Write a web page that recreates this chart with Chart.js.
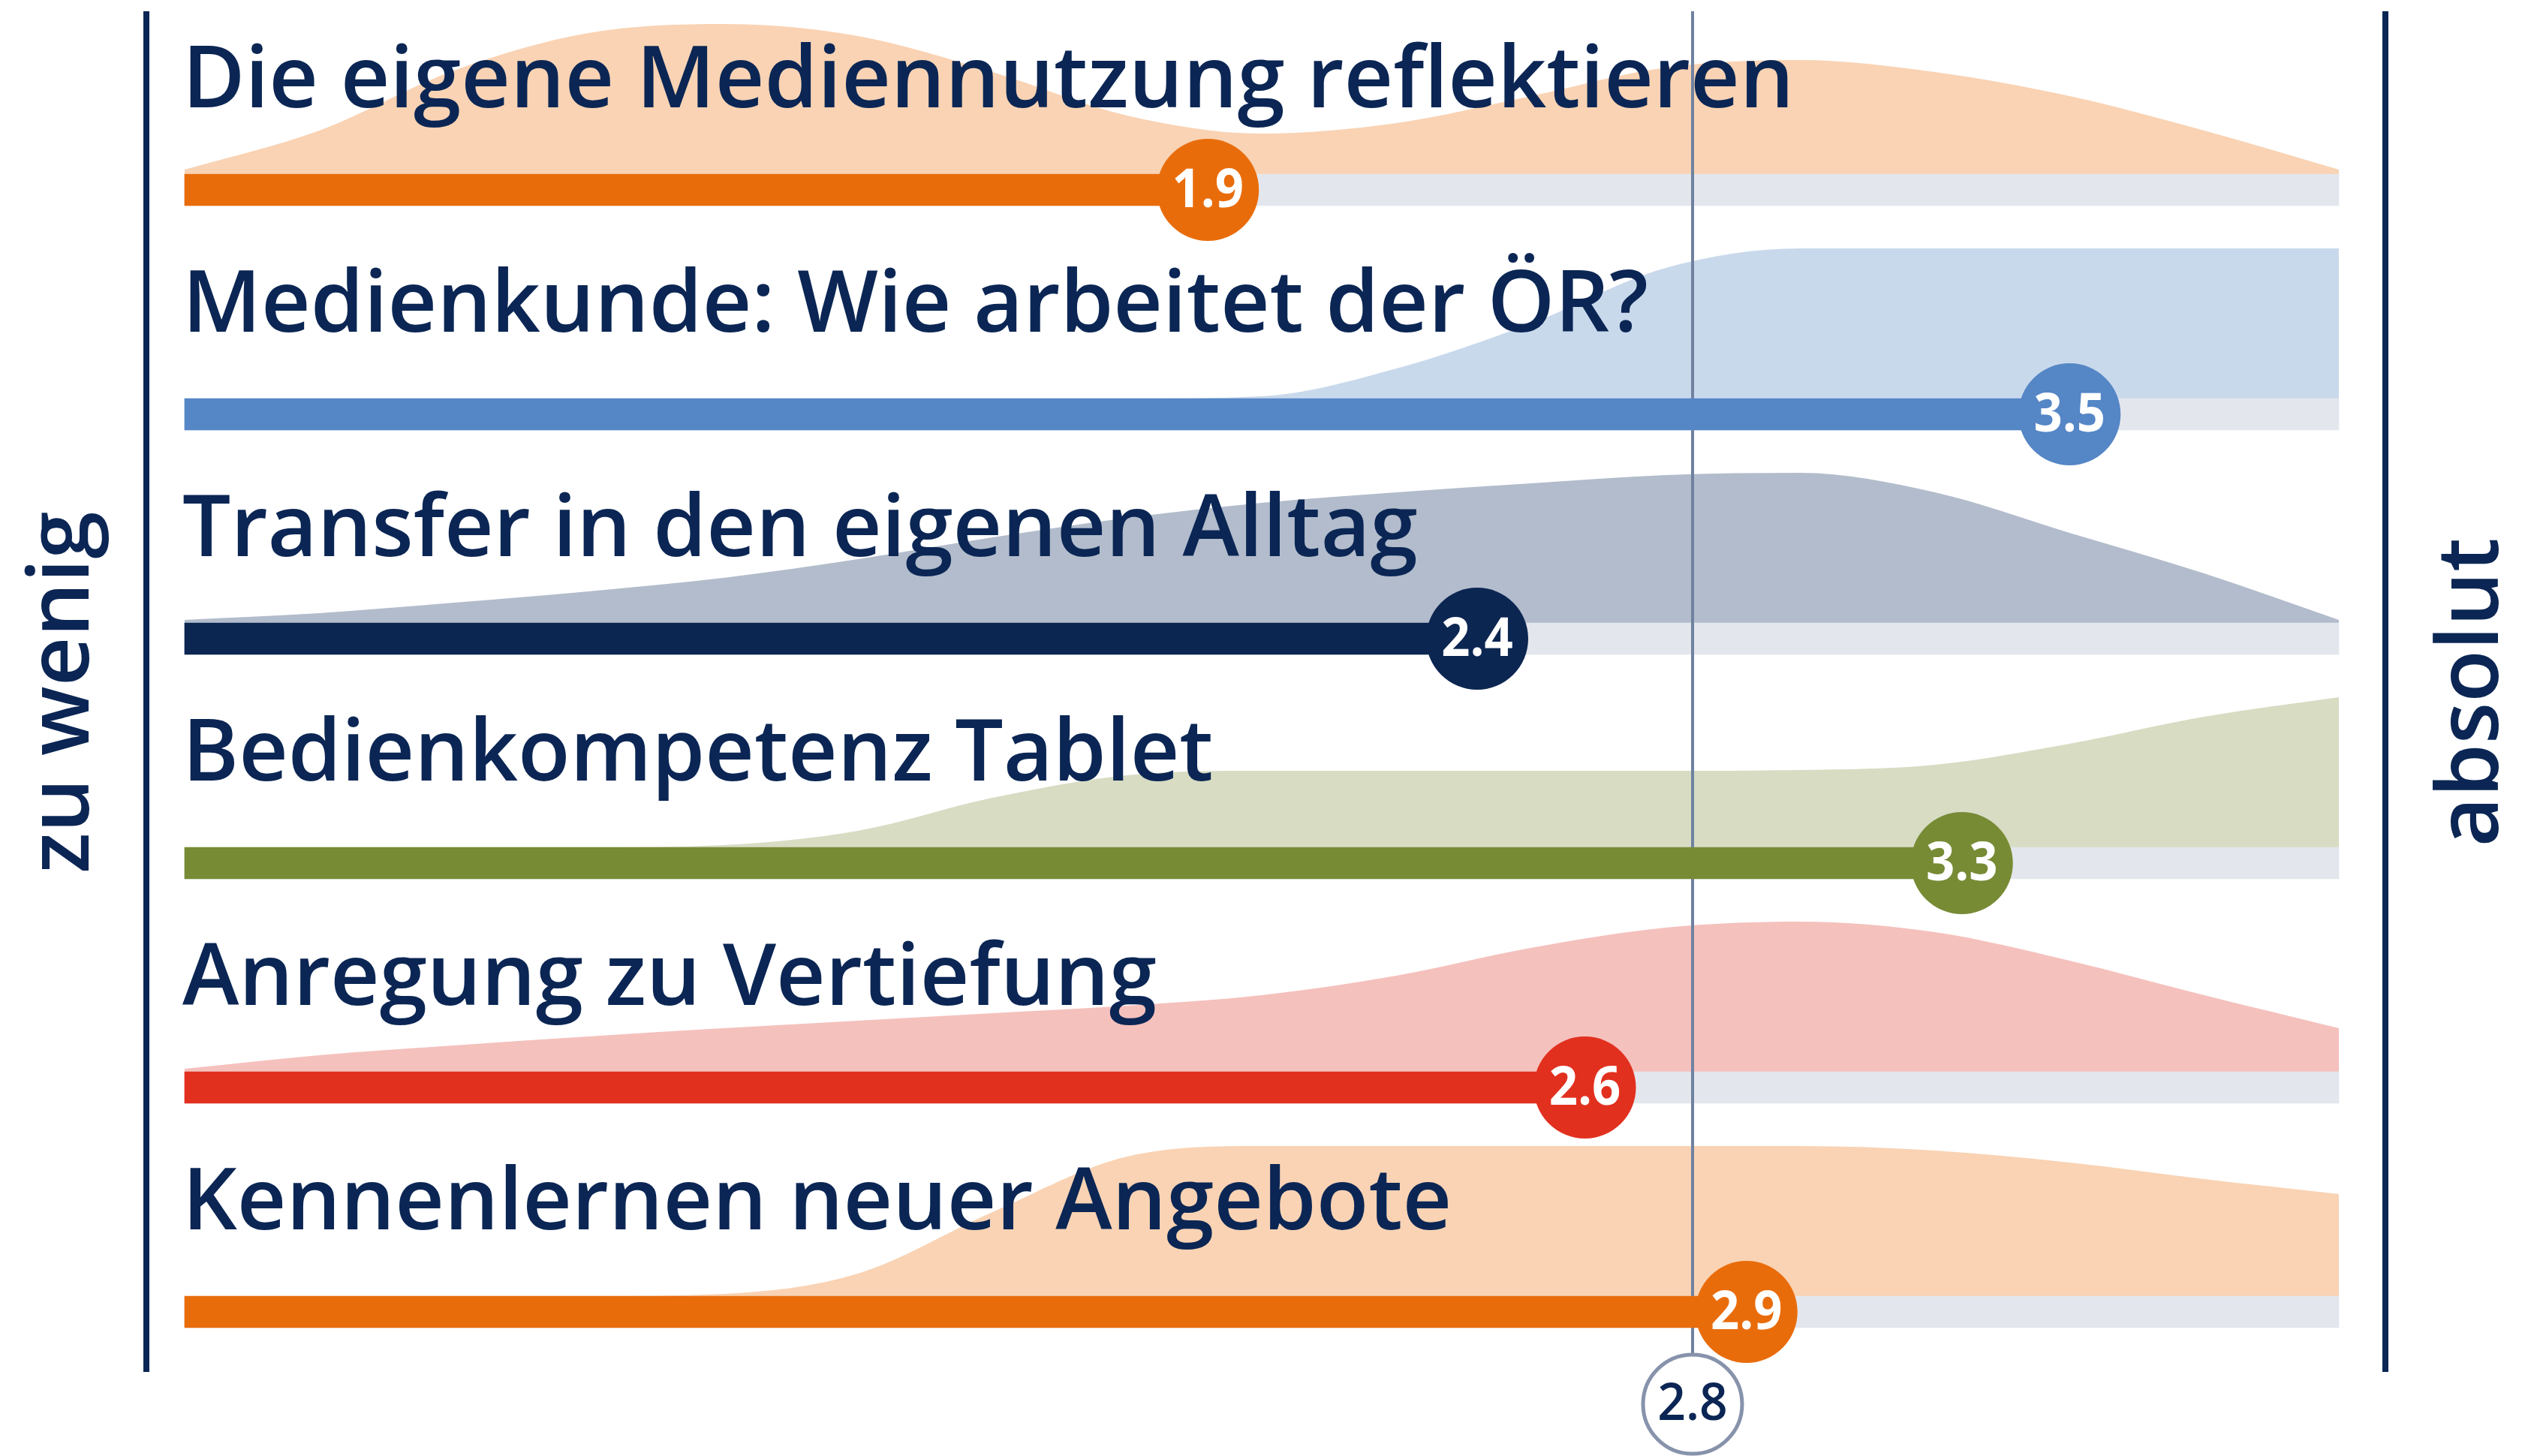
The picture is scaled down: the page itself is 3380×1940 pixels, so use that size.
<!DOCTYPE html>
<html>
<head>
<meta charset="utf-8">
<script src="https://cdn.jsdelivr.net/npm/chart.js@4.4.1/dist/chart.umd.min.js"></script>
<style>
html,body{margin:0;padding:0;background:#ffffff;}
#wrap{width:3380px;height:1940px;position:relative;overflow:hidden;}
canvas{display:block;}
</style>
</head>
<body>
<div id="wrap"><canvas id="c" width="3380" height="1940"></canvas></div>
<script>
// ---------------- DATA ----------------
const categories = [
  "Die eigene Mediennutzung reflektieren",
  "Medienkunde: Wie arbeitet der ÖR?",
  "Transfer in den eigenen Alltag",
  "Bedienkompetenz Tablet",
  "Anregung zu Vertiefung",
  "Kennenlernen neuer Angebote"
];
const meanValues = [1.9, 3.5, 2.4, 3.3, 2.6, 2.9];
const overallMean = 2.8;
const scaleMin = 0;
const scaleMax = 4;
const axisLabelLow = "zu wenig";
const axisLabelHigh = "absolut";

// density profile of answers along the scale (relative height, 1 = row maximum)
const densityGrid = [0, 0.25, 0.5, 0.75, 1, 1.25, 1.5, 1.75, 2, 2.25, 2.5, 2.75, 3, 3.25, 3.5, 3.75, 4];
const densityReflektieren = [0.03, 0.29, 0.69, 0.94, 1.0, 0.92, 0.68, 0.39, 0.27, 0.34, 0.52, 0.71, 0.76, 0.68, 0.52, 0.29, 0.03];
const densityMedienkunde  = [0, 0, 0, 0, 0, 0, 0, 0, 0.015, 0.2, 0.5, 0.87, 1.0, 1.0, 1.0, 1.0, 1.0];
const densityTransfer     = [0.02, 0.065, 0.135, 0.21, 0.3, 0.425, 0.57, 0.7, 0.8, 0.87, 0.93, 0.985, 1.0, 0.87, 0.6, 0.33, 0.02];
const densityTablet       = [0, 0, 0, 0, 0.015, 0.11, 0.33, 0.48, 0.51, 0.51, 0.51, 0.51, 0.515, 0.55, 0.69, 0.87, 1.0];
const densityVertiefung   = [0.02, 0.11, 0.175, 0.235, 0.29, 0.34, 0.39, 0.44, 0.51, 0.64, 0.825, 0.96, 1.0, 0.93, 0.74, 0.51, 0.29];
const densityAngebote     = [0, 0, 0, 0, 0.015, 0.15, 0.56, 0.93, 1.0, 1.0, 1.0, 1.0, 1.0, 0.97, 0.89, 0.78, 0.68];
const densities = [densityReflektieren, densityMedienkunde, densityTransfer, densityTablet, densityVertiefung, densityAngebote];

// ---------------- STYLE ----------------
const NAVY = "#0b2654";
const barColors  = ["#e96c0b", "#5586c6", "#0c2652", "#778b35", "#e2301f", "#e96c0b"];
const areaColors = ["#f9d3b4", "#c9d9ec", "#b2bccc", "#d7dcc3", "#f5c1bd", "#f9d3b4"];
const TRACK = "#e3e6ec";
const REF_COLOR = "#7082a0";
const FONT = '"Open Sans", "Noto Sans", sans-serif';

const L = { W: 3380, H: 1940, left: 246, unit: 717.5, row0: 253, pitch: 299, bar: 42, area: 200,
            top: 15, bottom: 1828, refCircleY: 1871 };
const xMin = scaleMin - L.left / L.unit;
const xMax = scaleMin + (L.W - L.left) / L.unit;
const yMin = -L.row0 / L.pitch;
const yMax = (L.H - L.row0) / L.pitch;
const half = (L.bar / 2) / L.pitch;
const areaH = L.area / L.pitch;
const lineTop = (L.top - L.row0) / L.pitch;
const refCircleRow = (L.refCircleY - L.row0) / L.pitch;

// ---------------- DATASETS ----------------
const datasets = [];
densities.forEach((dens, i) => {
  datasets.push({
    type: 'line',
    data: densityGrid.map((g, k) => ({ x: g, y: i - half - dens[k] * areaH })),
    borderWidth: 0,
    borderColor: 'rgba(0,0,0,0)',
    backgroundColor: areaColors[i],
    fill: { value: i - half },
    pointRadius: 0,
    cubicInterpolationMode: 'monotone',
    clip: false,
    order: 30
  });
});
// gray track
datasets.push({
  type: 'bar', indexAxis: 'y', grouped: false,
  data: categories.map((c, i) => ({ x: scaleMax, y: i })),
  backgroundColor: TRACK, barThickness: L.bar, borderWidth: 0, order: 25, clip: false
});
// reference (overall mean) line
datasets.push({
  type: 'line',
  data: [{ x: overallMean, y: lineTop }, { x: overallMean, y: refCircleRow }],
  borderColor: REF_COLOR, borderWidth: 4, pointRadius: 0, fill: false, clip: false, order: 20
});
// value bars
datasets.push({
  type: 'bar', indexAxis: 'y', grouped: false,
  data: meanValues.map((v, i) => ({ x: v, y: i })),
  backgroundColor: barColors, barThickness: L.bar, borderWidth: 0, order: 10, clip: false
});
// value circles
const pointIdx = datasets.length;
datasets.push({
  type: 'line', showLine: false,
  data: meanValues.map((v, i) => ({ x: v, y: i })),
  pointRadius: 68, pointBackgroundColor: barColors, pointBorderWidth: 0, clip: false, order: 5
});
// overall mean circle
const refIdx = datasets.length;
datasets.push({
  type: 'line', showLine: false,
  data: [{ x: overallMean, y: refCircleRow }],
  pointRadius: 66, pointBackgroundColor: '#ffffff', pointBorderColor: '#8793ab', pointBorderWidth: 5,
  clip: false, order: 4
});

// ---------------- TEXT PLUGIN ----------------
const textPlugin = {
  id: 'texts',
  beforeDatasetsDraw(chart) {
    const ctx = chart.ctx;
    const xs = chart.scales.x;
    ctx.save();
    ctx.strokeStyle = NAVY;
    ctx.lineWidth = 8;
    const xl = xs.getPixelForValue(scaleMin) - 51;
    const xr = xs.getPixelForValue(scaleMax) + 62;
    ctx.beginPath();
    ctx.moveTo(xl, L.top); ctx.lineTo(xl, L.bottom);
    ctx.moveTo(xr, L.top); ctx.lineTo(xr, L.bottom);
    ctx.stroke();
    ctx.restore();
  },
  afterDatasetsDraw(chart) {
    const ctx = chart.ctx;
    const xs = chart.scales.x, ys = chart.scales.y;
    ctx.save();
    // titles
    ctx.fillStyle = NAVY;
    ctx.font = '600 114px ' + FONT;
    ctx.textAlign = 'left';
    ctx.textBaseline = 'alphabetic';
    categories.forEach((t, i) => {
      ctx.fillText(t, xs.getPixelForValue(scaleMin) - 3, ys.getPixelForValue(i) - 110);
    });
    // side labels
    const midY = (ys.getPixelForValue(2) + ys.getPixelForValue(3)) / 2 - 78;
    [[axisLabelLow, 118], [axisLabelHigh, 3328]].forEach(([t, bx]) => {
      ctx.save();
      ctx.translate(bx, midY);
      ctx.rotate(-Math.PI / 2);
      ctx.textAlign = 'center';
      ctx.textBaseline = 'alphabetic';
      ctx.fillText(t, 0, 0);
      ctx.restore();
    });
    // value labels
    const pts = chart.getDatasetMeta(pointIdx).data;
    ctx.fillStyle = '#ffffff';
    ctx.font = '700 72px ' + FONT;
    ctx.textAlign = 'center';
    ctx.textBaseline = 'middle';
    pts.forEach((p, i) => {
      ctx.save();
      ctx.translate(p.x, p.y + 2);
      ctx.scale(0.93, 1);
      ctx.fillText(meanValues[i].toFixed(1), 0, 0);
      ctx.restore();
    });
    const rp = chart.getDatasetMeta(refIdx).data[0];
    ctx.fillStyle = NAVY;
    ctx.font = '600 68px ' + FONT;
    ctx.save();
    ctx.translate(rp.x, rp.y + 2);
    ctx.scale(0.97, 1);
    ctx.fillText(overallMean.toFixed(1), 0, 0);
    ctx.restore();
    ctx.restore();
  }
};

new Chart(document.getElementById('c'), {
  type: 'line',
  data: { datasets },
  options: {
    responsive: false,
    animation: false,
    events: [],
    layout: { padding: 0, autoPadding: false },
    plugins: { legend: { display: false }, tooltip: { enabled: false } },
    scales: {
      x: { type: 'linear', min: xMin, max: xMax, display: false, offset: false, bounds: 'data', grace: 0 },
      y: { type: 'linear', min: yMin, max: yMax, reverse: true, display: false, offset: false, bounds: 'data', grace: 0 }
    }
  },
  plugins: [textPlugin]
});
</script>
</body>
</html>
